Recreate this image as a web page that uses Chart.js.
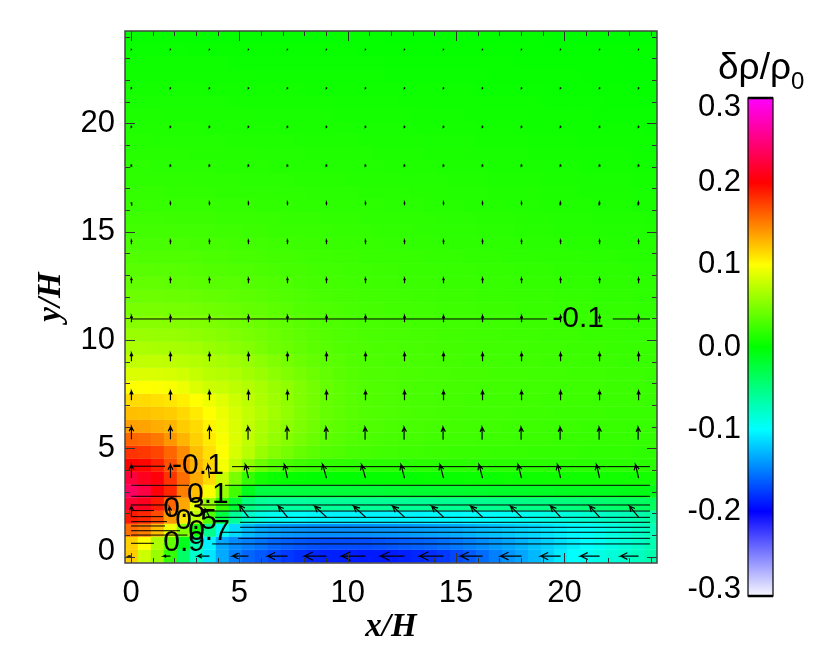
<!DOCTYPE html>
<html><head><meta charset="utf-8">
<script src="https://cdn.jsdelivr.net/npm/chart.js@4"></script>
<style>html,body{margin:0;padding:0;background:#fff}#w{position:relative;width:830px;height:663px}canvas{position:absolute;top:0}</style>
</head><body><div id="w"><canvas id="m" width="830" height="663" style="left:0"></canvas><canvas id="c" width="170" height="663" style="left:660px"></canvas></div>
<script>
// density field, thousandths of delta-rho/rho0; row 0 is the bottom row, columns run left to right
const field = [
[120,80,60,20,-40,-80,-110,-133,-150,-160,-165,-172,-178,-182,-185,-187,-188,-189,-190,-190,-190,-188,-185,-182,-178,-172,-165,-158,-150,-142,-135,-128,-118,-108,-100,-95,-90,-85,-80,-75,-68],
[118,100,67,38,-10,-70,-105,-135,-145,-150,-155,-160,-163,-166,-168,-170,-170,-170,-170,-168,-166,-164,-162,-160,-157,-153,-149,-145,-140,-135,-130,-124,-118,-112,-106,-100,-95,-90,-84,-78,-70],
[157,150,125,94,50,8,-55,-94,-114,-126,-133,-137,-140,-142,-143,-144,-144,-144,-143,-142,-141,-140,-138,-136,-134,-132,-129,-126,-123,-120,-117,-114,-110,-106,-102,-98,-94,-89,-84,-78,-72],
[190,185,170,140,110,75,30,-25,-60,-80,-90,-95,-98,-100,-102,-103,-104,-104,-104,-104,-104,-103,-103,-102,-102,-101,-100,-99,-98,-96,-94,-92,-90,-88,-85,-82,-79,-76,-72,-68,-64],
[220,212,190,160,135,90,60,20,-20,-50,-60,-62,-62,-62,-61,-60,-60,-60,-59,-59,-59,-58,-58,-58,-57,-57,-56,-56,-55,-54,-53,-52,-51,-49,-48,-46,-44,-42,-40,-38,-36],
[240,228,204,185,150,125,98,60,25,-10,-25,-25,-25,-24,-24,-23,-22,-22,-21,-21,-20,-20,-19,-19,-18,-18,-17,-17,-16,-16,-15,-14,-14,-13,-12,-12,-11,-10,-9,-8,-8],
[225,212,204,180,157,133,114,78,47,20,8,4,2,1,0,0,0,0,1,1,2,2,2,3,3,3,4,4,4,5,5,5,6,6,6,6,7,7,7,7,8],
[200,198,188,169,149,129,116,96,75,56,42,33,28,24,21,19,18,17,17,16,16,16,16,16,16,16,16,16,16,16,16,16,16,16,16,16,16,16,16,16,16],
[180,178,173,160,145,125,112,100,84,72,60,52,46,40,36,32,30,28,27,26,25,24,24,23,23,22,22,22,21,21,21,20,20,20,20,19,19,19,19,18,18],
[160,158,153,141,129,118,108,98,86,75,66,58,52,46,41,37,34,32,30,29,28,27,27,26,26,25,25,24,24,24,23,23,23,22,22,22,21,21,21,20,20],
[137,136,132,129,120,114,104,95,85,76,68,61,55,49,44,39,36,33,31,30,29,28,28,27,27,26,26,25,25,24,24,24,23,23,23,22,22,22,21,21,21],
[125,124,122,120,115,108,100,92,84,76,70,63,57,50,45,40,37,34,32,31,30,29,28,28,27,26,26,25,25,25,24,24,24,23,23,23,23,22,22,22,22],
[114,114,112,110,106,100,94,88,80,74,68,62,56,50,45,40,37,34,32,31,30,29,28,28,27,27,26,26,25,25,25,25,24,24,24,24,23,23,23,23,22],
[100,100,99,98,93,86,80,78,74,70,66,60,56,50,45,40,37,34,32,31,30,29,28,28,27,27,27,26,26,26,25,25,25,24,24,24,24,23,23,23,22],
[86,86,85,84,81,77,72,70,68,64,60,55,50,46,42,38,35,33,31,30,30,29,29,28,28,27,27,27,26,26,26,25,25,25,24,24,24,23,23,23,22],
[75,75,75,74,72,70,68,65,62,59,55,50,46,42,39,36,34,32,30,30,29,29,28,28,27,27,26,26,26,25,25,25,24,24,24,23,23,23,22,22,22],
[67,67,66,66,65,63,60,57,54,51,47,44,41,38,36,34,32,31,30,29,29,28,28,27,27,26,26,26,25,25,25,24,24,24,23,23,23,22,22,22,21],
[60,60,59,59,58,56,54,52,50,47,45,42,39,37,35,33,31,30,29,29,28,28,27,27,26,26,25,25,25,24,24,24,23,23,23,22,22,22,21,21,21],
[53,53,53,52,51,50,49,47,45,43,41,39,37,35,33,31,30,29,28,28,27,27,26,26,25,25,25,24,24,24,23,23,23,22,22,22,21,21,21,20,20],
[47,47,47,46,46,45,44,42,41,39,38,36,34,32,31,30,29,28,27,27,26,26,25,25,24,24,24,23,23,23,22,22,22,21,21,21,20,20,20,19,19],
[42,42,42,41,41,40,39,38,37,36,35,33,32,30,29,28,27,27,26,26,25,25,24,24,23,23,23,22,22,22,21,21,21,20,20,20,19,19,19,18,18],
[38,38,38,37,37,36,35,35,34,33,32,31,30,28,27,27,26,25,25,24,24,23,23,23,22,22,22,21,21,21,20,20,20,19,19,19,18,18,18,17,17],
[35,35,34,34,34,33,32,32,31,30,29,28,27,27,26,25,25,24,24,23,23,22,22,22,21,21,21,20,20,20,19,19,19,18,18,18,17,17,17,16,16],
[32,31,31,31,31,30,29,29,28,28,27,26,26,25,24,24,23,23,22,22,22,21,21,20,20,20,19,19,19,18,18,18,17,17,17,16,16,16,15,15,15],
[29,28,28,28,28,27,27,27,26,26,25,24,24,23,23,22,22,21,21,21,20,20,19,19,19,18,18,18,17,17,17,16,16,16,15,15,15,14,14,14,14],
[26,26,26,26,25,25,25,24,24,23,23,22,22,22,21,21,20,20,20,19,19,19,18,18,17,17,17,16,16,16,15,15,15,14,14,14,13,13,13,13,12],
[24,24,24,23,23,23,23,22,22,22,21,21,20,20,20,19,19,19,18,18,18,17,17,17,16,16,16,15,15,15,14,14,14,13,13,13,12,12,12,12,11],
[22,22,21,21,21,21,21,20,20,20,19,19,19,18,18,18,17,17,17,17,16,16,16,15,15,15,14,14,14,13,13,13,12,12,12,12,11,11,11,10,10],
[20,20,20,19,19,19,19,18,18,18,18,17,17,17,16,16,16,16,15,15,15,15,14,14,14,13,13,13,12,12,12,12,11,11,11,10,10,10,10,9,9],
[18,18,18,18,18,17,17,17,17,16,16,16,16,15,15,15,15,14,14,14,14,13,13,13,13,12,12,12,11,11,11,11,10,10,10,9,9,9,9,8,8],
[17,17,16,16,16,16,16,15,15,15,15,14,14,14,14,13,13,13,13,13,12,12,12,12,11,11,11,11,10,10,10,10,9,9,9,8,8,8,8,7,7],
[15,15,15,15,15,14,14,14,14,14,13,13,13,13,12,12,12,12,12,11,11,11,11,10,10,10,10,9,9,9,9,8,8,8,8,7,7,7,7,6,6],
[14,14,13,13,13,13,13,13,12,12,12,12,12,11,11,11,11,11,10,10,10,10,10,9,9,9,9,8,8,8,8,7,7,7,7,6,6,6,6,6,5],
[12,12,12,12,12,12,11,11,11,11,11,11,10,10,10,10,10,9,9,9,9,9,8,8,8,8,8,7,7,7,7,6,6,6,6,5,5,5,5,5,4],
[11,11,11,10,10,10,10,10,10,10,9,9,9,9,9,9,8,8,8,8,8,8,7,7,7,7,6,6,6,6,6,5,5,5,5,5,4,4,4,4,4],
[10,9,9,9,9,9,9,9,8,8,8,8,8,8,8,8,7,7,7,7,7,6,6,6,6,6,6,5,5,5,5,5,4,4,4,4,4,3,3,3,3],
[8,8,8,8,8,8,7,7,7,7,7,7,7,7,6,6,6,6,6,6,6,5,5,5,5,5,5,4,4,4,4,4,4,3,3,3,3,3,3,2,2],
[6,6,6,6,6,6,6,6,6,6,5,5,5,5,5,5,5,5,5,5,4,4,4,4,4,4,4,4,3,3,3,3,3,3,3,2,2,2,2,2,2],
[5,5,5,5,5,5,5,5,4,4,4,4,4,4,4,4,4,4,4,4,3,3,3,3,3,3,3,3,3,3,2,2,2,2,2,2,2,2,1,1,1],
[4,4,4,4,4,3,3,3,3,3,3,3,3,3,3,3,3,3,2,2,2,2,2,2,2,2,2,2,2,2,2,1,1,1,1,1,1,1,1,1,1],
[3,3,3,3,2,2,2,2,2,2,2,2,2,2,2,2,2,2,2,1,1,1,1,1,1,1,1,1,1,1,1,1,1,0,0,0,0,0,0,0,0]
];
const gridStart = 0.02, cellSize = 0.6, arrowStep = 1.8;
// velocity vectors, data units per arrow; row 0 is the bottom row
const arrowU = [
[-.14,-.32,-.55,-.74,-.92,-1.02,-1.11,-1.11,-1.11,-1.02,-.97,-.92,-.88,-.83],
[0,-.05,-.18,-.42,-.42,-.55,-.55,-.55,-.55,-.55,-.51,-.46,-.46,-.42],
[0,0,-.07,-.14,-.14,-.18,-.18,-.16,-.16,-.16,-.16,-.14,-.14,-.14],
[0,0,0,-.02,-.02,-.02,-.02,-.02,-.02,-.02,-.02,-.02,-.02,-.02],
[0,0,0,0,0,0,0,0,0,0,0,0,0,0],[0,0,0,0,0,0,0,0,0,0,0,0,0,0],[0,0,0,0,0,0,0,0,0,0,0,0,0,0],
[0,0,0,0,0,0,0,0,0,0,0,0,0,0],[0,0,0,0,0,0,0,0,0,0,0,0,0,0],[0,0,0,0,0,0,0,0,0,0,0,0,0,0],
[0,0,0,0,0,0,0,0,0,0,0,0,0,0],[0,0,0,0,0,0,0,0,0,0,0,0,0,0],[0,0,0,0,0,0,0,0,0,0,0,0,0,0],[0,0,0,0,0,0,0,0,0,0,0,0,0,0]];
const arrowV = [
[0,0,0,0,0,0,0,0,0,0,0,0,0,0],
[.51,.48,.37,.55,.51,.51,.51,.51,.51,.51,.51,.51,.51,.51],
[.62,.62,.62,.62,.62,.64,.62,.62,.62,.62,.62,.62,.62,.62],
[.58,.58,.58,.58,.56,.55,.55,.55,.55,.55,.55,.55,.55,.55],
[.42,.42,.42,.42,.42,.42,.42,.42,.42,.42,.42,.42,.42,.42],
[.37,.37,.37,.37,.37,.37,.37,.37,.37,.37,.37,.37,.37,.37],
[.30,.30,.30,.30,.30,.30,.30,.30,.30,.30,.30,.30,.30,.30],
[.23,.23,.23,.23,.23,.23,.23,.23,.23,.23,.23,.23,.23,.23],
[.18,.18,.18,.18,.18,.18,.18,.18,.18,.18,.18,.18,.18,.18],
[.14,.14,.14,.14,.14,.14,.14,.14,.14,.14,.14,.14,.14,.14],
[.09,.09,.09,.09,.09,.09,.09,.09,.09,.09,.09,.09,.09,.09],
[.07,.07,.07,.07,.07,.07,.07,.07,.07,.07,.07,.07,.07,.07],
[.05,.05,.05,.05,.05,.05,.05,.05,.05,.05,.05,.05,.05,.05],
[.03,.03,.03,.03,.03,.03,.03,.03,.03,.03,.03,.03,.03,.03]];
// contours: y at the left piece, y at the right piece, [x ranges with label gaps]
const contourYLeft  = [10.97,4.17,3.29,2.78,2.38,2.12,1.84,1.61,1.41,1.19,0.99,0.61];
const contourYRight = [10.97,4.15,3.29,2.78,2.38,2.10,1.81,1.58,1.35,1.12,0.84,0.58];
const contourLeftEnd   = [19.2,1.57,2.68,2.31,1.57,1.06,1.48,1.66,1.57,2.26,2.6,1.06];
const contourRightStart= [22.23,4.66,4.34,4.94,2.95,3.42,3.88,5.03,5.03,4.2,4.94,3.74];
const contourXMin = 0, contourXMax = 23.95;
const contourLabels = ["-0.1","-0.1","0.1","0.3","0.5","0.7","0.9"];
const contourLabelX = [20.63,3.09,3.55,2.45,3.0,3.6,2.45];
const contourLabelY = [10.98,4.19,2.85,2.2,1.65,1.14,0.64];
const xTicks = [0,5,10,15,20];
const yTickPos = [0.23,5,10,15,20], yTickLabels = ["0","5","10","15","20"], yMajor = [0,5,10,15,20];
const minorTicks = [0,1,2,3,4,5,6,7,8,9,10,11,12,13,14,15,16,17,18,19,20,21,22,23,24];
const colorStops  = [-0.303,-0.2,-0.1,0,0.1,0.2,0.303];
const colorValues = [[248,248,255],[0,0,255],[0,255,255],[0,255,0],[255,255,0],[255,0,0],[255,0,255]];
const barTickPos    = [0.2915,0.2,0.1,0,-0.1,-0.2,-0.295];
const barTickLabels = ["0.3","0.2","0.1","0.0","-0.1","-0.2","-0.3"];
const barRange = [-0.303,0.303];

function colorFor(v){
  let k=0; while(k<colorStops.length-2 && v>colorStops[k+1]) k++;
  const t=Math.max(0,Math.min(1,(v-colorStops[k])/(colorStops[k+1]-colorStops[k])));
  const a=colorValues[k],b=colorValues[k+1];
  return 'rgb('+[0,1,2].map(i=>Math.round(a[i]+(b[i]-a[i])*t)).join(',')+')';
}
const heatPts=[],heatCols=[];
field.forEach((row,j)=>row.forEach((v,i)=>{
  heatPts.push({x:gridStart+cellSize*i,y:gridStart+cellSize*j});
  heatCols.push(colorFor(v/1000));
}));
const arrowPts=[];
arrowU.forEach((row,k)=>row.forEach((u,c)=>{
  const v=arrowV[k][c],x=gridStart+arrowStep*c,y=gridStart+arrowStep*k,tx=x+u,ty=y+v;
  const h=0.42,ca=Math.cos(0.45),sa=Math.sin(0.45);
  arrowPts.push({x,y},{x:tx,y:ty},{x:tx-h*(u*ca-v*sa),y:ty-h*(u*sa+v*ca)},{x:null,y:null},
                {x:tx,y:ty},{x:tx-h*(u*ca+v*sa),y:ty-h*(-u*sa+v*ca)},{x:null,y:null});
}));
const contourSets=contourYLeft.map((yl,n)=>({
  data:[{x:contourXMin,y:yl},{x:contourLeftEnd[n],y:yl},{x:null,y:null},{x:contourRightStart[n],y:contourYRight[n]},{x:contourXMax,y:contourYRight[n]}],
  showLine:true,pointRadius:0,borderColor:'#000',borderWidth:1,spanGaps:false,order:1
}));
const tickFont={family:'"Liberation Sans"',size:31};
const titleFont={family:'"Liberation Serif"',size:33,weight:'bold',style:'italic'};

const overlay={id:'overlay',afterDatasetsDraw(ch){
  const c=ch.ctx,{x:sx,y:sy}=ch.scales,a=ch.chartArea;
  c.save();
  c.fillStyle='#000';c.font='30px "Liberation Sans"';c.textAlign='center';c.textBaseline='middle';
  contourLabels.forEach((t,i)=>c.fillText(t,sx.getPixelForValue(contourLabelX[i]),sy.getPixelForValue(contourLabelY[i])));
  c.strokeStyle='#333';c.lineWidth=1;c.beginPath();
  const seg=(x1,y1,x2,y2)=>{c.moveTo(x1,y1);c.lineTo(x2,y2);};
  minorTicks.forEach(t=>{
    const px=Math.round(sx.getPixelForValue(t))+.5,py=Math.round(sy.getPixelForValue(t))+.5;
    const lx=xTicks.includes(t)?10:5,ly=yMajor.includes(t)?10:5;
    seg(px,a.bottom,px,a.bottom-lx);seg(px,a.top,px,a.top+lx);
    seg(a.left,py,a.left+ly,py);seg(a.right,py,a.right-ly,py);
  });
  c.stroke();
  c.strokeStyle='#444';c.lineWidth=1.5;c.strokeRect(a.left,a.top,a.right-a.left,a.bottom-a.top);
  c.restore();
}};
new Chart(document.getElementById('m'),{type:'scatter',
  data:{datasets:[
    {label:'delta rho',data:heatPts,pointStyle:'rect',pointBackgroundColor:heatCols,pointBorderWidth:0,order:3,
     pointRadius(ctx){const s=ctx.chart.scales.x;return Math.abs(s.getPixelForValue(cellSize)-s.getPixelForValue(0))/Math.SQRT2+.25;}},
    {label:'velocity',data:arrowPts,showLine:true,pointRadius:0,borderColor:'#000',borderWidth:1.2,spanGaps:false,order:2},
    ...contourSets]},
  options:{responsive:false,animation:false,
    layout:{padding:{left:0,right:173,top:31,bottom:0}},
    plugins:{legend:{display:false},tooltip:{enabled:false}},
    scales:{
      x:{type:'linear',min:-0.277,max:24.27,grid:{display:false,drawTicks:false},border:{display:false},
         afterFit(s){s.height=100;},afterBuildTicks(s){s.ticks=xTicks.map(value=>({value}));},
         ticks:{font:tickFont,color:'#000',padding:12,maxRotation:0,autoSkip:false,callback:v=>String(v)},
         title:{display:true,text:'x/H',font:titleFont,color:'#000',padding:{top:0,bottom:16}}},
      y:{type:'linear',min:-0.3,max:24.27,grid:{display:false,drawTicks:false},border:{display:false},
         afterFit(s){s.width=125;},afterBuildTicks(s){s.ticks=yTickPos.map(value=>({value}));},
         ticks:{font:tickFont,color:'#000',padding:10,autoSkip:false,callback:v=>yTickLabels[yTickPos.indexOf(v)]},
         title:{display:true,text:'y/H',font:titleFont,color:'#000',padding:{top:32,bottom:0}}}
    }},
  plugins:[overlay]});

const barFrame={id:'barFrame',afterDraw(ch){
  const c=ch.ctx,a=ch.chartArea;
  c.save();c.strokeStyle='#000';c.lineWidth=1.2;c.strokeRect(a.left,a.top,a.right-a.left,a.bottom-a.top);
  c.lineWidth=2.5;c.beginPath();c.moveTo(a.left,a.top);c.lineTo(a.right,a.top);c.moveTo(a.left,a.bottom);c.lineTo(a.right,a.bottom);c.stroke();
  c.fillStyle='#000';c.textAlign='left';c.textBaseline='alphabetic';
  c.font='37px "Liberation Sans"';c.fillText('δρ/ρ',58,79);const w=c.measureText('δρ/ρ').width;
  c.font='24px "Liberation Sans"';c.fillText('0',58+w,89);
  c.restore();
}};
new Chart(document.getElementById('c'),{type:'bar',
  data:{labels:['delta rho / rho0'],datasets:[{data:[barRange],barPercentage:1,categoryPercentage:1,borderWidth:0,
    backgroundColor(ctx){
      const ch=ctx.chart,s=ch.scales.y;if(!ch.chartArea||!s)return '#000';
      const g=ch.ctx.createLinearGradient(0,s.getPixelForValue(barRange[0]),0,s.getPixelForValue(barRange[1]));
      colorStops.forEach((v,i)=>g.addColorStop((v-barRange[0])/(barRange[1]-barRange[0]),'rgb('+colorValues[i].join(',')+')'));
      return g;}}]},
  options:{responsive:false,animation:false,
    layout:{padding:{left:0,right:57,top:98,bottom:67}},
    plugins:{legend:{display:false},tooltip:{enabled:false}},
    scales:{x:{display:false},
      y:{type:'linear',min:barRange[0],max:barRange[1],grid:{display:false,drawTicks:false},border:{display:false},
         afterFit(s){s.width=88;},afterBuildTicks(s){s.ticks=barTickPos.map(value=>({value}));},
         ticks:{font:tickFont,color:'#000',padding:7,autoSkip:false,callback:v=>barTickLabels[barTickPos.indexOf(v)]}}}},
  plugins:[barFrame]});
</script></body></html>
